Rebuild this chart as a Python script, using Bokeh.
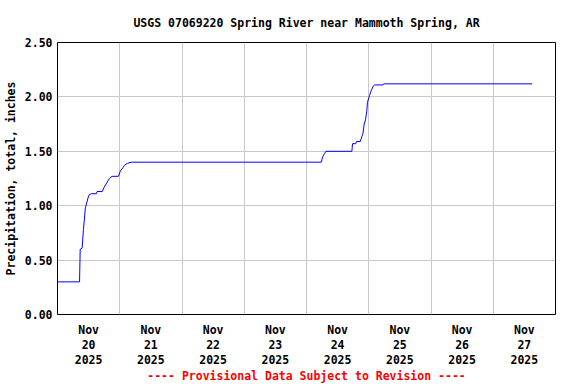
import pandas as pd
from bokeh.plotting import figure
from bokeh.models import FixedTicker, Range1d, Title, ColumnDataSource
from bokeh.embed import file_html
from bokeh.resources import INLINE

title_text = "USGS 07069220 Spring River near Mammoth Spring, AR"
y_label = "Precipitation, total, inches"
footer_text = "---- Provisional Data Subject to Revision ----"

times = [
    "2025-11-20 00:00", "2025-11-20 08:30", "2025-11-20 08:45", "2025-11-20 09:30",
    "2025-11-20 09:45", "2025-11-20 10:00", "2025-11-20 10:45", "2025-11-20 11:45",
    "2025-11-20 12:15", "2025-11-20 13:00", "2025-11-20 15:00", "2025-11-20 15:15",
    "2025-11-20 17:15", "2025-11-20 18:00", "2025-11-20 18:45", "2025-11-20 19:30",
    "2025-11-20 20:00", "2025-11-20 21:00", "2025-11-20 23:30", "2025-11-21 00:15",
    "2025-11-21 01:15", "2025-11-21 01:45", "2025-11-21 03:00", "2025-11-21 04:30",
    "2025-11-24 05:45", "2025-11-24 06:00", "2025-11-24 06:15", "2025-11-24 07:00",
    "2025-11-24 07:30", "2025-11-24 17:30", "2025-11-24 17:45", "2025-11-24 19:00",
    "2025-11-24 19:15", "2025-11-24 20:45", "2025-11-24 21:15", "2025-11-24 21:45",
    "2025-11-24 22:15", "2025-11-24 22:45", "2025-11-24 23:15", "2025-11-24 23:30",
    "2025-11-25 00:15", "2025-11-25 01:00", "2025-11-25 01:45", "2025-11-25 02:15",
    "2025-11-25 05:30", "2025-11-25 05:45", "2025-11-27 15:00",
]
values = [
    0.30, 0.30, 0.60, 0.61,
    0.70, 0.78, 0.98, 1.07,
    1.10, 1.11, 1.11, 1.13,
    1.13, 1.17, 1.20, 1.23,
    1.25, 1.27, 1.27, 1.32,
    1.35, 1.37, 1.39, 1.40,
    1.40, 1.43, 1.45, 1.48,
    1.50, 1.50, 1.57, 1.57,
    1.59, 1.59, 1.63, 1.66,
    1.75, 1.79, 1.87, 1.95,
    2.01, 2.06, 2.10, 2.11,
    2.11, 2.12, 2.12,
]

x_start = "2025-11-20 00:00"
x_end = "2025-11-28 00:00"
day_label_times = ["2025-11-20 12:00", "2025-11-21 12:00", "2025-11-22 12:00", "2025-11-23 12:00",
                   "2025-11-24 12:00", "2025-11-25 12:00", "2025-11-26 12:00", "2025-11-27 12:00"]
day_labels = ["Nov\n20\n2025", "Nov\n21\n2025", "Nov\n22\n2025", "Nov\n23\n2025",
              "Nov\n24\n2025", "Nov\n25\n2025", "Nov\n26\n2025", "Nov\n27\n2025"]
day_grid_times = ["2025-11-21", "2025-11-22", "2025-11-23", "2025-11-24",
                  "2025-11-25", "2025-11-26", "2025-11-27"]
y_ticks = [0.0, 0.5, 1.0, 1.5, 2.0, 2.5]
y_tick_labels = ["0.00", "0.50", "1.00", "1.50", "2.00", "2.50"]


def ms(t):
    return int(pd.Timestamp(t).value // 10**6)


FONT = "DejaVu Sans Mono"
FS = "11.5px"

src = ColumnDataSource(dict(t=pd.to_datetime(times), v=values))

p = figure(width=575, height=383, x_axis_type="datetime",
           output_backend="svg", toolbar_location=None,
           x_range=Range1d(ms(x_start), ms(x_end)), y_range=Range1d(0, 2.5),
           min_border_left=57, min_border_right=20, min_border_top=42, min_border_bottom=69)

p.title.text = title_text
p.title.align = "center"
p.title.text_font = FONT
p.title.text_font_size = FS
p.title.text_font_style = "bold"
p.title.text_color = "black"
p.title.standoff = 26

p.line("t", "v", source=src, line_color="#0000ff", line_width=1)

p.outline_line_color = "black"
p.outline_line_width = 1
p.background_fill_color = "white"
p.border_fill_color = "white"

xt = [ms(t) for t in day_label_times]
p.xaxis.ticker = FixedTicker(ticks=xt)
p.xaxis.major_label_overrides = {k: lab for k, lab in zip(xt, day_labels)}
p.xgrid.ticker = FixedTicker(ticks=[ms(t) for t in day_grid_times])

p.yaxis.ticker = FixedTicker(ticks=y_ticks)
p.yaxis.major_label_overrides = {k: lab for k, lab in zip(y_ticks, y_tick_labels)}
p.yaxis.axis_label = y_label

for ax in (p.xaxis, p.yaxis):
    ax.axis_line_color = None
    ax.major_tick_line_color = None
    ax.minor_tick_line_color = None
    ax.major_tick_out = 0
    ax.major_tick_in = 0
    ax.minor_tick_out = 0
    ax.major_label_text_font = FONT
    ax.major_label_text_font_size = FS
    ax.major_label_text_font_style = "bold"
    ax.major_label_text_color = "black"
    ax.axis_label_text_font = FONT
    ax.axis_label_text_font_size = FS
    ax.axis_label_text_font_style = "bold"
    ax.axis_label_text_color = "black"

p.xaxis.major_label_standoff = 8
p.xaxis.major_label_text_line_height = 1.08
p.yaxis.major_label_standoff = 5
p.yaxis.axis_label_standoff = 4

for g in (p.xgrid, p.ygrid):
    g.grid_line_color = "#c8c8c8"
    g.grid_line_width = 1

p.add_layout(Title(text=footer_text, align="center", text_color="red",
                   text_font=FONT, text_font_size=FS, text_font_style="bold",
                   standoff=-6), "below")

open("out.html", "w").write(file_html(p, INLINE))
